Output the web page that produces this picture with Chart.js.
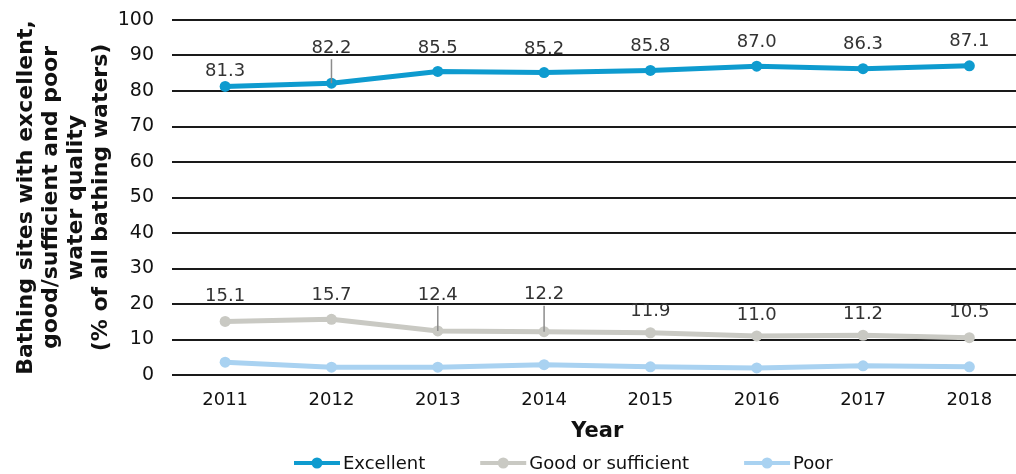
<!DOCTYPE html>
<html>
<head>
<meta charset="utf-8">
<script src="https://cdn.jsdelivr.net/npm/chart.js@4"></script>
<style>
  html, body { margin: 0; padding: 0; background: #fff; overflow: hidden; }
  #wrap { width: 1028px; height: 474px; position: relative; }
</style>
</head>
<body>
<div id="wrap"><canvas id="qualityChart"></canvas></div>
<script>
var years = ['2011', '2012', '2013', '2014', '2015', '2016', '2017', '2018'];
var excellent = [81.3, 82.2, 85.5, 85.2, 85.8, 87.0, 86.3, 87.1];
var goodOrSufficient = [15.1, 15.7, 12.4, 12.2, 11.9, 11.0, 11.2, 10.5];
var poor = [3.6, 2.2, 2.2, 2.9, 2.3, 2.0, 2.6, 2.3];
var yTicks = [0, 10, 20, 30, 40, 50, 60, 70, 80, 90, 100];

var seriesNames = ['Excellent', 'Good or sufficient', 'Poor'];
var seriesColors = ['#0e9bcf', '#c9c9c3', '#a9d2f1'];

var FONT = "'DejaVu Sans', Verdana, sans-serif";

// label lift above each point (px); leader marks the ones pushed clear of the line
var labelLift = {
    0: [15, 35, 23, 23, 24, 24, 24, 24],
    1: [25, 24, 36, 37, 21, 21, 21, 25]
};
var labelLeader = {
    0: [false, true, false, false, false, false, false, false],
    1: [false, false, true, true, false, false, false, false]
};

var valueLabels = {
    id: 'valueLabels',
    afterDatasetsDraw: function(chart) {
        var ctx = chart.ctx;
        ctx.save();
        ctx.font = '18px ' + FONT;
        ctx.textAlign = 'center';
        ctx.textBaseline = 'middle';
        [0, 1].forEach(function(di) {
            var meta = chart.getDatasetMeta(di);
            var values = chart.data.datasets[di].data;
            meta.data.forEach(function(pt, i) {
                var ly = pt.y - labelLift[di][i];
                if (labelLeader[di][i]) {
                    ctx.strokeStyle = '#8c8c8c';
                    ctx.lineWidth = 1.5;
                    ctx.beginPath();
                    ctx.moveTo(pt.x, ly + 11);
                    ctx.lineTo(pt.x, pt.y);
                    ctx.stroke();
                }
                ctx.fillStyle = '#333333';
                ctx.fillText(values[i].toFixed(1), pt.x, ly);
            });
        });
        ctx.restore();
    }
};

var lineLegend = {
    id: 'lineLegend',
    afterDraw: function(chart) {
        var ctx = chart.ctx;
        ctx.save();
        ctx.font = '18px ' + FONT;
        ctx.textBaseline = 'middle';
        var x = 294, y = 463, symW = 46, gap = 3, spacing = 55;
        chart.data.datasets.forEach(function(ds) {
            ctx.strokeStyle = ds.borderColor;
            ctx.lineWidth = 4;
            ctx.beginPath();
            ctx.moveTo(x, y);
            ctx.lineTo(x + symW, y);
            ctx.stroke();
            ctx.fillStyle = ds.borderColor;
            ctx.beginPath();
            ctx.arc(x + symW / 2, y, 5.5, 0, Math.PI * 2);
            ctx.fill();
            ctx.fillStyle = '#111';
            ctx.fillText(ds.label, x + symW + gap, y + 1);
            x += symW + gap + ctx.measureText(ds.label).width + spacing;
        });
        ctx.restore();
    }
};

function makeSeries(i, values) {
    return {
        label: seriesNames[i],
        data: values,
        borderColor: seriesColors[i],
        backgroundColor: seriesColors[i],
        borderWidth: 5,
        pointRadius: 5.5,
        pointHoverRadius: 5.5,
        pointBorderWidth: 0,
        tension: 0
    };
}

var ctx = document.getElementById('qualityChart').getContext('2d');
var qualityChart = new Chart(ctx, {
    type: 'line',
    data: {
        labels: years,
        datasets: [
            makeSeries(0, excellent),
            makeSeries(1, goodOrSufficient),
            makeSeries(2, poor)
        ]
    },
    options: {
        responsive: true,
        maintainAspectRatio: false,
        animation: false,
        devicePixelRatio: 1,
        layout: { padding: { top: 20, right: 0, bottom: 30, left: 0 } },
        plugins: {
            legend: { display: false },
            tooltip: { enabled: false }
        },
        scales: {
            x: {
                offset: true,
                grid: { display: false, drawTicks: false },
                border: { display: false },
                ticks: { color: '#111', font: { family: FONT, size: 18 }, padding: 15 },
                title: {
                    display: true,
                    text: 'Year',
                    color: '#111',
                    font: { family: FONT, size: 21, weight: 'bold' },
                    padding: { top: 0, bottom: 0 }
                },
                afterFit: function(scale) { scale.height = 69; }
            },
            y: {
                min: 0,
                max: 100,
                afterBuildTicks: function(scale) {
                    scale.ticks = yTicks.map(function(v) { return { value: v }; });
                },
                grid: { color: '#1a1a1a', lineWidth: 2, drawTicks: false },
                border: { display: false },
                ticks: { color: '#111', font: { family: FONT, size: 19 }, padding: 18 },
                title: {
                    display: true,
                    text: ['Bathing sites with excellent,', 'good/sufficient and poor', 'water quality', '(% of all bathing waters)'],
                    color: '#111',
                    font: { family: FONT, size: 22, weight: 'bold', lineHeight: 1.14 },
                    padding: { top: 14, bottom: 0 }
                },
                afterFit: function(scale) {
                    scale.width = 172;
                    scale.paddingTop = 0;
                    scale.paddingBottom = 0;
                }
            }
        }
    },
    plugins: [valueLabels, lineLegend]
});
</script>
</body>
</html>
